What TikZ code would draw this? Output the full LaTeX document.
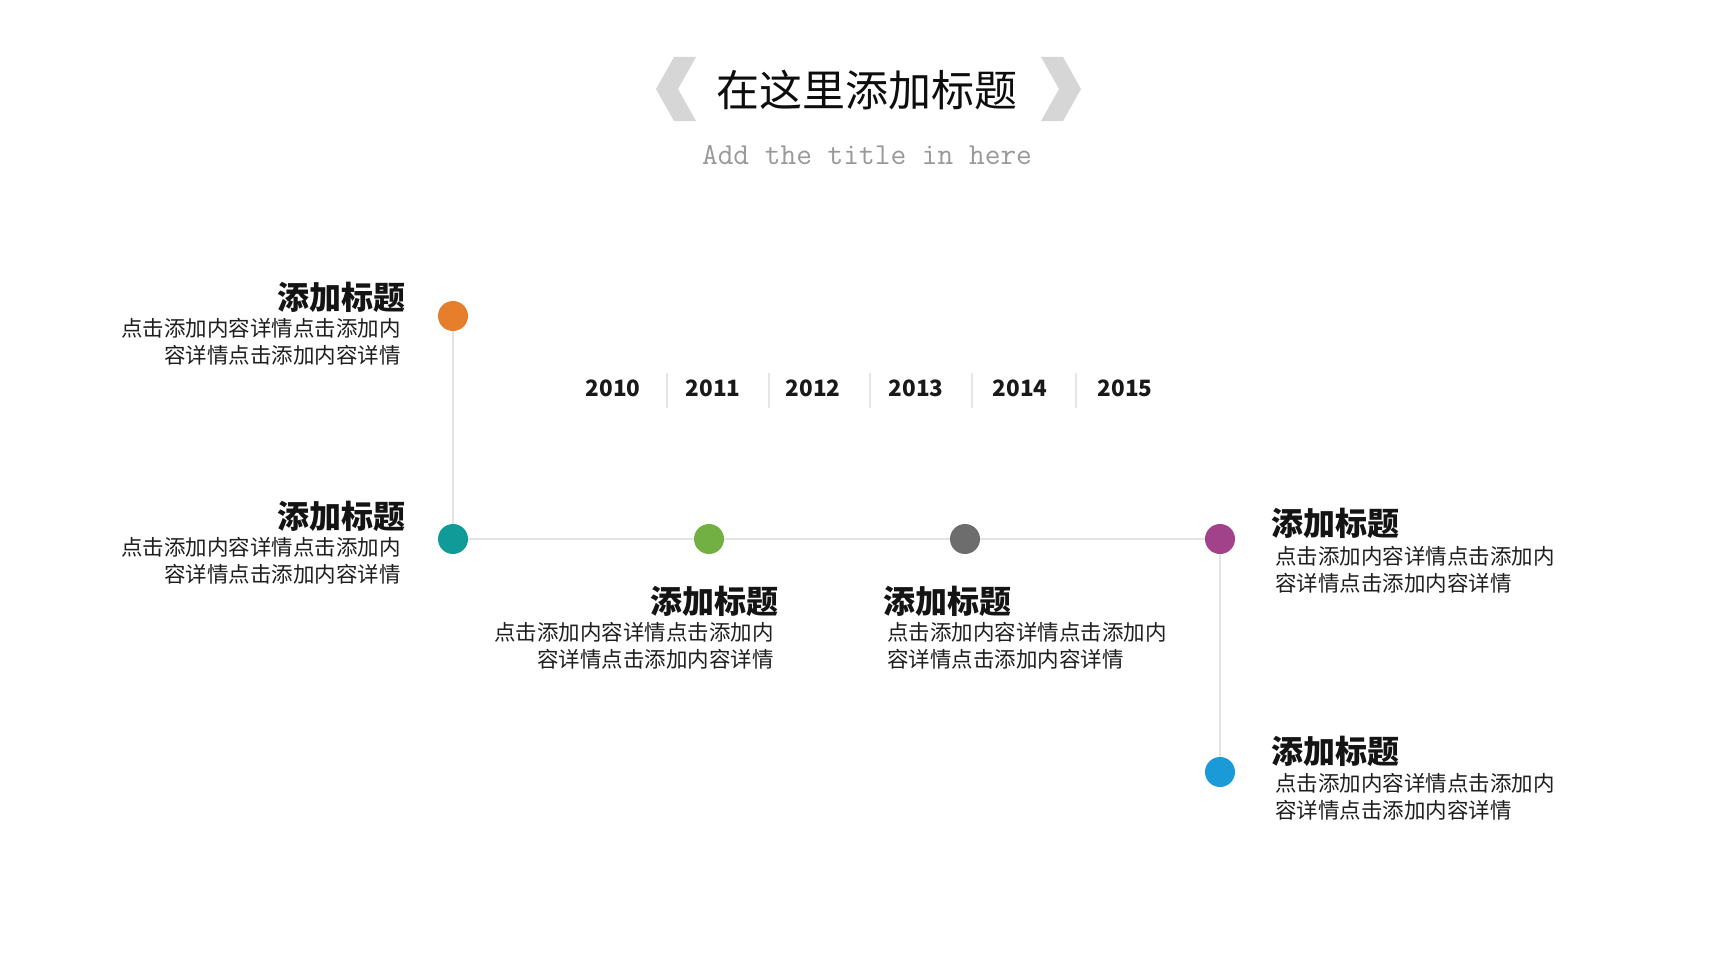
\documentclass[tikz,border=0pt]{standalone}
\usepackage{fontspec}
\setmainfont{Noto Sans CJK SC}
\begin{document}
\begin{tikzpicture}[x=1pt,y=-1pt,
  dot/.style={circle,inner sep=0pt,minimum size=30pt},
  conn/.style={draw=black!11,line width=2.5pt},
  heading/.style={inner sep=0pt,font=\fontsize{32}{36}\selectfont\bfseries,text=black!92},
  bodytxt/.style={inner sep=0pt,font=\fontsize{21.5}{26.5}\selectfont,text=black!88},
  year/.style={inner sep=0pt,font=\fontsize{22.5}{26}\selectfont\bfseries,text=black!90},
  sep/.style={draw=black!10,line width=1.5pt},
  chev/.style={fill=black!16,draw=none}
]
\definecolor{cOrange}{HTML}{E67E2B}
\definecolor{cTeal}{HTML}{109A98}
\definecolor{cGreen}{HTML}{72B043}
\definecolor{cGray}{HTML}{6D6D6D}
\definecolor{cPurple}{HTML}{A1428A}
\definecolor{cBlue}{HTML}{1A9BD7}
\useasboundingbox[fill=white] (0,0) rectangle (1720,966);

% title
\node[inner sep=0pt,font=\fontsize{43}{48}\selectfont,text=black!95] (title) at (867,90) {在这里添加标题};
\fill[chev] (674,57) -- (696,57) -- (678,89) -- (696,121) -- (674,121) -- (656,89) -- cycle;
\fill[chev] (1041,57) -- (1063,57) -- (1081,89) -- (1063,121) -- (1041,121) -- (1059,89) -- cycle;
\node[inner sep=0pt,font=\ttfamily\fontsize{30.5}{33}\selectfont,text=black!40] (sub) at (867,155) {Add the title in here};

% years
\node[year] (y0) at (613,388) {2010};
\node[year] (y1) at (713,388) {2011};
\node[year] (y2) at (813,388) {2012};
\node[year] (y3) at (916,388) {2013};
\node[year] (y4) at (1020,388) {2014};
\node[year] (y5) at (1125,388) {2015};
\foreach \i/\xx in {1/667,2/769,3/870,4/972,5/1076}{
  \coordinate (sa\i) at (\xx,373);
  \coordinate (sb\i) at (\xx,408);
  \draw[sep] (sa\i) -- (sb\i);
}

% dots
\node[dot] (d1) at (453,316) {};
\node[dot] (d2) at (453,539) {};
\node[dot] (d3) at (709,539) {};
\node[dot] (d4) at (965,539) {};
\node[dot] (d5) at (1220,539) {};
\node[dot] (d6) at (1220,772) {};
\draw[conn] (d1.center) -- (d2.center) -- (d5.center) -- (d6.center);
\fill[cOrange] (d1) circle (15);
\fill[cTeal] (d2) circle (15);
\fill[cGreen] (d3) circle (15);
\fill[cGray] (d4) circle (15);
\fill[cPurple] (d5) circle (15);
\fill[cBlue] (d6) circle (15);

% text blocks
\node[heading,anchor=east] (h1) at (406,297) {添加标题};
\node[bodytxt,anchor=east,align=right] (b1) at (401,342) {点击添加内容详情点击添加内\\容详情点击添加内容详情};

\node[heading,anchor=east] (h2) at (406,516) {添加标题};
\node[bodytxt,anchor=east,align=right] (b2) at (401,561) {点击添加内容详情点击添加内\\容详情点击添加内容详情};

\node[heading,anchor=east] (h3) at (779,601) {添加标题};
\node[bodytxt,anchor=east,align=right] (b3) at (774,646) {点击添加内容详情点击添加内\\容详情点击添加内容详情};

\node[heading,anchor=west] (h4) at (883,601) {添加标题};
\node[bodytxt,anchor=west,align=left] (b4) at (887,646) {点击添加内容详情点击添加内\\容详情点击添加内容详情};

\node[heading,anchor=west] (h5) at (1271,523) {添加标题};
\node[bodytxt,anchor=west,align=left] (b5) at (1275,570) {点击添加内容详情点击添加内\\容详情点击添加内容详情};

\node[heading,anchor=west] (h6) at (1271,751) {添加标题};
\node[bodytxt,anchor=west,align=left] (b6) at (1275,797) {点击添加内容详情点击添加内\\容详情点击添加内容详情};
\end{tikzpicture}
\end{document}
